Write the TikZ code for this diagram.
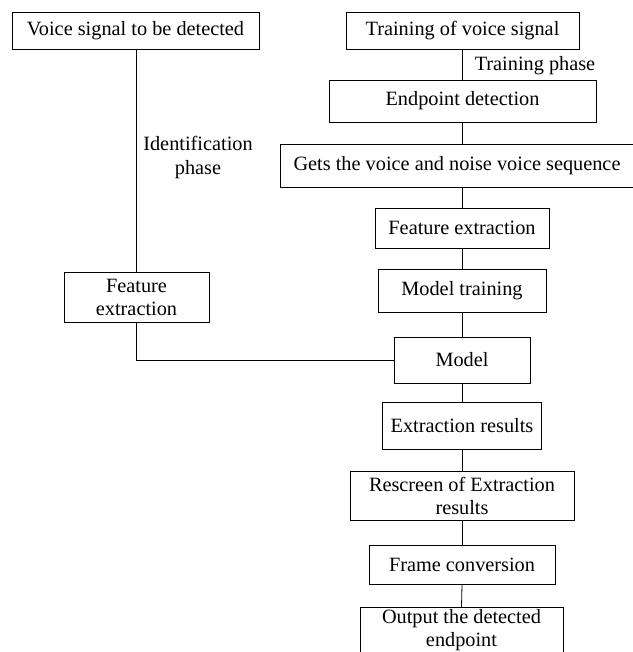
\documentclass[tikz,border=0pt]{standalone}
\usepackage{fontspec}
\setmainfont{Liberation Serif}
\begin{document}
\begin{tikzpicture}[x=1pt,y=-1pt,
  box/.style={draw, line width=0.8pt, inner sep=0pt, align=center,
    font=\fontsize{20.3}{23}\selectfont},
  lbl/.style={inner sep=0pt, align=center, font=\fontsize{20.3}{24}\selectfont},
  conn/.style={line width=0.8pt}]
\useasboundingbox (0,0) rectangle (632,652);
% left column
\node[box, minimum width=247pt, minimum height=37pt] (A) at (135.5,30.5) {Voice signal to be detected};
\node[box, minimum width=145pt, minimum height=50pt] (F) at (136.5,297) {Feature\\extraction};
\node[lbl] (ip) at (198,158) {Identification\\phase};
% right column
\node[box, minimum width=233pt, minimum height=37pt] (B) at (462.5,30.5) {Training of voice signal};
\node[lbl] (tp) at (535,66) {Training phase};
\node[box, minimum width=267pt, minimum height=42pt] (C) at (462.5,101) {Endpoint detection};
\node[box, minimum width=354pt, minimum height=43pt] (D) at (457,165.5) {Gets the voice and noise voice sequence};
\node[box, minimum width=174pt, minimum height=40pt] (E) at (462,228) {Feature extraction};
\node[box, minimum width=168pt, minimum height=43pt] (G) at (462,290.5) {Model training};
\node[box, minimum width=136pt, minimum height=46pt] (H) at (462,360) {Model};
\node[box, minimum width=159pt, minimum height=47pt] (I) at (462,425.5) {Extraction results};
\node[box, minimum width=224pt, minimum height=49pt] (J) at (462,495.5) {Rescreen of Extraction\\results};
\node[box, minimum width=186pt, minimum height=39pt] (K) at (462,564.5) {Frame conversion};
\node[box, minimum width=203pt, minimum height=46pt] (L) at (461.5,630.5) {Output the detected\\endpoint};
% connectors
\draw[conn] (A.south -| F.north) -- (F.north);
\draw[conn] (F.south) |- (H.west);
\draw[conn] (B.south) -- (C.north);
\draw[conn] (C.south) -- (C.south |- D.north);
\draw[conn] (E.north |- D.south) -- (E.north);
\draw[conn] (E.south) -- (G.north);
\draw[conn] (G.south) -- (H.north);
\draw[conn] (H.south) -- (I.north);
\draw[conn] (I.south) -- (J.north);
\draw[conn] (J.south) -- (K.north);
\draw[conn] (K.south) -- (L.north);
\end{tikzpicture}
\end{document}
